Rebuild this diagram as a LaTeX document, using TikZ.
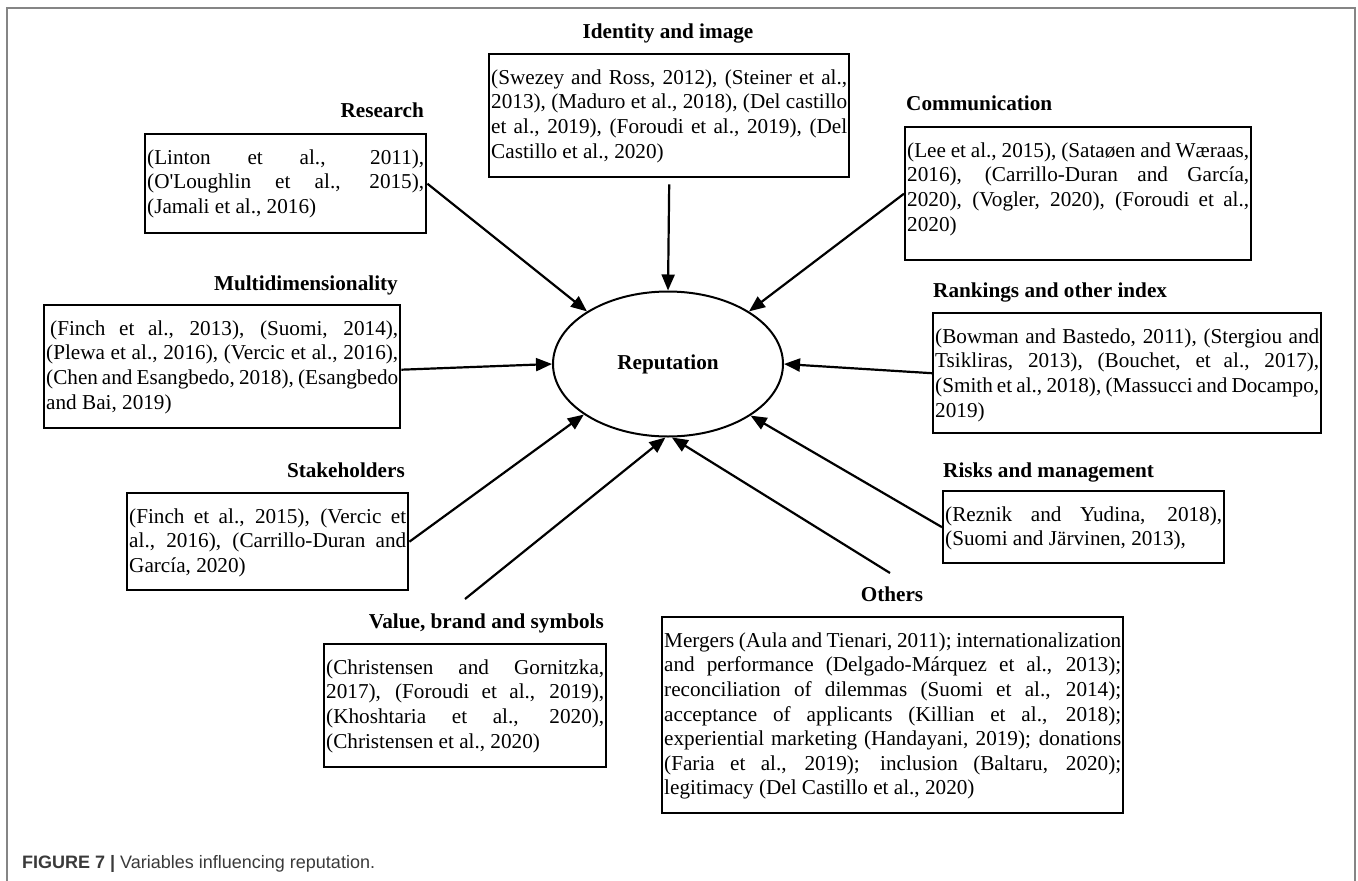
\documentclass[tikz,border=0pt]{standalone}
\usepackage{fontspec}
\setmainfont{Liberation Serif}
\newfontfamily\tnr{Liberation Serif}
\newfontfamily\capsans{Liberation Sans}
\usetikzlibrary{arrows.meta,shapes.geometric}

% one justified line of a reference list
\newcommand{\jl}[1]{\makebox[\linewidth][s]{#1}\par}
% reference list set in a top-aligned box of given width and height
\newcommand{\reftext}[3]{\parbox[c][#2][t]{#1}{\tnr\fontsize{21.2}{24.6}\selectfont
  \setlength{\parindent}{0pt}\leavevmode\rule{0pt}{30pt}#3}}

\definecolor{framegray}{HTML}{858585}
\definecolor{captext}{HTML}{3A3A3A}

\begin{document}
\begin{tikzpicture}[x=1pt,y=-1pt,
  refbox/.style={draw, line width=2.4pt, inner xsep=2pt, inner ysep=0pt, anchor=north west},
  heading/.style={inner sep=0pt, font=\tnr\bfseries\fontsize{21.2}{24}\selectfont},
  arr/.style={line width=2.2pt, -{Triangle[length=16pt,width=13pt]}},
  hub/.style={draw, ellipse, line width=2pt, inner sep=0pt, minimum width=230pt,
    minimum height=145pt, font=\tnr\bfseries\fontsize{21.2}{24}\selectfont}]
\useasboundingbox (0,0) rectangle (1358,881);

% outer frame (open at the bottom)
\draw[framegray, line width=1.5pt] (7,881) -- (7,8) -- (1355,8) -- (1355,881);

% central concept
\node[hub] (rep) at (668,364) {Reputation};

% headings
\node[heading, anchor=base east] (t-research) at (424,117) {Research};
\node[heading, anchor=base] (t-identity) at (668,38) {Identity and image};
\node[heading, anchor=base west] (t-comm) at (906,110) {Communication};
\node[heading, anchor=base east] (t-multi) at (398,290) {Multidimensionality};
\node[heading, anchor=base west] (t-rank) at (933,297) {Rankings and other index};
\node[heading, anchor=base east] (t-stake) at (405,477) {Stakeholders};
\node[heading, anchor=base west] (t-risks) at (943,477) {Risks and management};
\node[heading, anchor=base east] (t-value) at (604,628) {Value, brand and symbols};
\node[heading, anchor=base] (t-others) at (892,601) {Others};

% reference boxes
\node[refbox] (research) at (144,133) {\reftext{277pt}{99pt}{%
  \jl{(Linton et al., 2011),}
  \jl{(O'Loughlin et al., 2015),}
  (Jamali et al., 2016)}};

\node[refbox] (identity) at (488,53) {\reftext{356pt}{123pt}{%
  \jl{(Swezey and Ross, 2012), (Steiner et al.,}
  \jl{2013), (Maduro et al., 2018), (Del castillo}
  \jl{et al., 2019), (Foroudi et al., 2019), (Del}
  Castillo et al., 2020)}};

\node[refbox] (comm) at (904,126) {\reftext{342pt}{133pt}{%
  \jl{(Lee et al., 2015), (Sataøen and Wæraas,}
  \jl{2016), (Carrillo-Duran and García,}
  \jl{2020), (Vogler, 2020), (Foroudi et al.,}
  2020)}};

\node[refbox] (multi) at (43,304) {\reftext{352pt}{123pt}{%
  \jl{\hspace*{4pt}(Finch et al., 2013), (Suomi, 2014),}
  \jl{(Plewa et al., 2016), (Vercic et al., 2016),}
  \jl{(Chen and Esangbedo, 2018), (Esangbedo}
  and Bai, 2019)}};

\node[refbox] (rank) at (932,312) {\reftext{384pt}{120pt}{%
  \jl{(Bowman and Bastedo, 2011), (Stergiou and}
  \jl{Tsikliras, 2013), (Bouchet, et al., 2017),}
  \jl{(Smith et al., 2018), (Massucci and Docampo,}
  2019)}};

\node[refbox] (stake) at (126,492) {\reftext{277pt}{97pt}{%
  \jl{(Finch et al., 2015), (Vercic et}
  \jl{al., 2016), (Carrillo-Duran and}
  García, 2020)}};

\node[refbox] (risks) at (942,490) {\reftext{277pt}{72pt}{%
  \jl{(Reznik and Yudina, 2018),}
  (Suomi and Järvinen, 2013),}};

\node[refbox] (value) at (323,643) {\reftext{278pt}{123pt}{%
  \jl{(Christensen and Gornitzka,}
  \jl{2017), (Foroudi et al., 2019),}
  \jl{(Khoshtaria et al., 2020),}
  (Christensen et al., 2020)}};

\node[refbox] (others) at (661,616) {\reftext{457pt}{196pt}{%
  \jl{Mergers (Aula and Tienari, 2011); internationalization}
  \jl{and performance (Delgado-Márquez et al., 2013);}
  \jl{reconciliation of dilemmas (Suomi et al., 2014);}
  \jl{acceptance of applicants (Killian et al., 2018);}
  \jl{experiential marketing (Handayani, 2019); donations}
  \jl{(Faria et al., 2019); inclusion (Baltaru, 2020);}
  legitimacy (Del Castillo et al., 2020)}};

% free ends of the two lower connectors
\coordinate (valstart) at (465,599);
\coordinate (othstart) at (890,573);

% connectors into the central concept
\draw[arr] (research.east) -- (rep.147);
\draw[arr] ([yshift=-6pt]identity.south) -- (rep.90);
\draw[arr] (comm.west) -- (rep.33);
\draw[arr] ([yshift=-3pt]multi.east) -- (rep.180);
\draw[arr] (rank.west) -- (rep.0);
\draw[arr] (stake.east) -- (rep.211);
\draw[arr] (valstart) -- (rep.268);
\draw[arr] (othstart) -- (rep.273);
\draw[arr] (risks.west) -- (rep.328);

% caption
\node[anchor=base west, inner sep=0pt, text=captext,
  font=\capsans\fontsize{18}{20}\selectfont] (caption) at (22,868)
  {\textbf{FIGURE 7 |} Variables influencing reputation.};
\end{tikzpicture}
\end{document}
